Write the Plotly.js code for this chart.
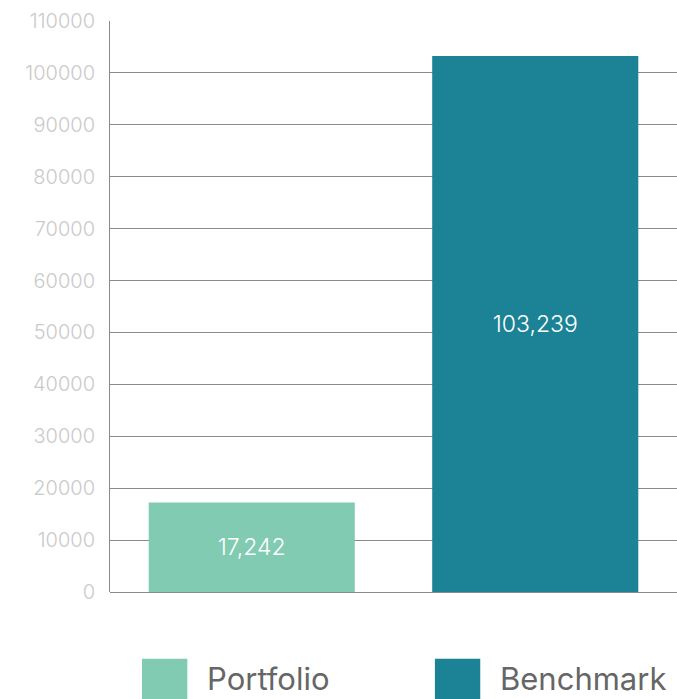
<!DOCTYPE html>
<html>
<head>
<meta charset="utf-8">
<script src="https://cdn.plot.ly/plotly-3.0.1.min.js"></script>
<style>
  body { margin: 0; background: #fff; }
  #chart { width: 677px; height: 699px; }
</style>
</head>
<body>
<div id="chart"></div>
<script>
// values
var names = ["Portfolio", "Benchmark"];
var values = [17242, 103239];
var colors = ["#80cbb2", "#1b8395"];
var yTicks = [0, 10000, 20000, 30000, 40000, 50000, 60000, 70000, 80000, 90000, 100000, 110000];

var trace = {
  type: "bar",
  x: names,
  y: values,
  marker: { color: colors },
  text: values.map(function (v) { return v.toLocaleString("en-US"); }),
  textposition: "inside",
  insidetextanchor: "middle",
  textfont: { family: "Inter, Lato, sans-serif", size: 23, color: "#ffffff", weight: 300 },
  hoverinfo: "none",
  showlegend: false
};

// legend built by hand so the swatches can be large (paper coords)
var legendX = [0.0564, 0.573];
var shapes = [];
var annotations = [];
names.forEach(function (n, i) {
  shapes.push({
    type: "rect", xref: "paper", yref: "paper",
    x0: legendX[i], x1: legendX[i] + 0.080,
    y0: -0.117, y1: -0.19,
    fillcolor: colors[i], line: { width: 0 }
  });
  annotations.push({
    xref: "paper", yref: "paper",
    x: legendX[i] + 0.112, y: -0.152,
    xanchor: "left", yanchor: "middle",
    text: n, showarrow: false,
    font: { family: "Inter, Lato, sans-serif", size: 31, color: "#666666" }
  });
});

var layout = {
  width: 677,
  height: 699,
  margin: { l: 110, r: 0, t: 21, b: 107 },
  paper_bgcolor: "#ffffff",
  plot_bgcolor: "#ffffff",
  bargap: 0.273,
  xaxis: {
    showticklabels: false,
    showgrid: false,
    zeroline: false,
    showline: false,
    ticks: ""
  },
  yaxis: {
    range: [0, 110000],
    tickvals: yTicks,
    ticktext: yTicks.map(String),
    showgrid: true,
    gridcolor: "#8a8a8a",
    gridwidth: 1,
    zeroline: true,
    zerolinecolor: "#8a8a8a",
    zerolinewidth: 1,
    showline: true,
    linecolor: "#8a8a8a",
    linewidth: 1,
    ticks: "",
    ticklabelstandoff: 10,
    tickfont: { family: "Inter, Lato, sans-serif", size: 20, color: "#cacaca", weight: 300 }
  },
  shapes: shapes,
  annotations: annotations
};

Plotly.newPlot("chart", [trace], layout, { displayModeBar: false, staticPlot: true });
</script>
</body>
</html>
